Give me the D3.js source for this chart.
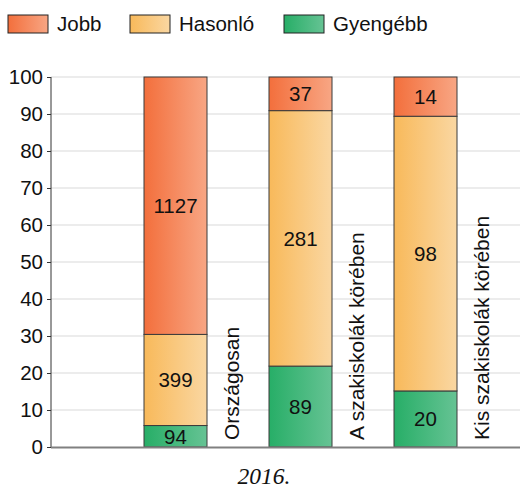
<!DOCTYPE html>
<html>
<head>
<meta charset="utf-8">
<script src="https://cdn.jsdelivr.net/npm/d3@7"></script>
<style>
  body { margin: 0; background: #fff; }
  svg { display: block; font-family: "Liberation Sans", Arial, sans-serif; }
</style>
</head>
<body>
<div id="chart"></div>
<script>
// counts per category, bars are drawn as share of the category total
var categories = ["Országosan", "A szakiskolák körében", "Kis szakiskolák körében"];
var series     = ["Gyengébb", "Hasonló", "Jobb"];
var gyengebb   = [94, 89, 20];
var hasonlo    = [399, 281, 98];
var jobb       = [1127, 37, 14];
var yTicks     = [0, 10, 20, 30, 40, 50, 60, 70, 80, 90, 100];
var legendOrder = ["Jobb", "Hasonló", "Gyengébb"];
var footnote   = "2016.";

var w = 521, h = 489;
var fs = "20.5px";
var svg = d3.select("#chart").append("svg").attr("width", w).attr("height", h);

// gradients left (saturated) -> right (lighter)
var grad = {
  "Jobb":     ["#f36f3c", "#f8a684"],
  "Hasonló":  ["#f8b95a", "#fad7a2"],
  "Gyengébb": ["#27ae67", "#66c394"]
};
var defs = svg.append("defs");
Object.keys(grad).forEach(function(k, i) {
  var g = defs.append("linearGradient").attr("id", "g" + i)
    .attr("x1", 0).attr("x2", 1).attr("y1", 0).attr("y2", 0);
  g.append("stop").attr("offset", "0%").attr("stop-color", grad[k][0]);
  g.append("stop").attr("offset", "100%").attr("stop-color", grad[k][1]);
  grad[k].id = "url(#g" + i + ")";
});

var y = d3.scaleLinear().domain([0, 100]).range([447, 77]);
var x = d3.scaleBand().domain(categories).range([113, 488]);
var barW = 63;

// grid
svg.append("g").selectAll("line").data(yTicks.slice(1)).join("line")
  .attr("x1", 51).attr("x2", 520)
  .attr("y1", function(d) { return y(d); }).attr("y2", function(d) { return y(d); })
  .attr("stroke", "#d9d9d9").attr("stroke-width", 1);

// y axis
var yAxis = svg.append("g").attr("transform", "translate(51,0)")
  .call(d3.axisLeft(y).tickValues(yTicks).tickSize(4).tickPadding(4));
yAxis.select(".domain").attr("stroke", "#333").attr("d", "M0,77V447");
yAxis.selectAll(".tick line").attr("stroke", "#333");
yAxis.selectAll(".tick text").attr("font-size", fs).attr("fill", "#111")
  .attr("font-family", "Liberation Sans, Arial, sans-serif");

// stacked data in percent
var rows = categories.map(function(c, i) {
  var t = gyengebb[i] + hasonlo[i] + jobb[i];
  return { cat: c, "Gyengébb": gyengebb[i], "Hasonló": hasonlo[i], "Jobb": jobb[i], total: t };
});
var stack = d3.stack().keys(series)
  .value(function(d, k) { return d[k] / d.total * 100; });
var layers = stack(rows);

var cx = function(d) { return x(d.data.cat) + x.bandwidth() / 2; };

var lg = svg.append("g").selectAll("g").data(layers).join("g");
lg.selectAll("rect").data(function(L) { return L.map(function(p) { p.key = L.key; return p; }); })
  .join("rect")
  .attr("x", function(d) { return cx(d) - barW / 2; })
  .attr("width", barW)
  .attr("y", function(d) { return y(d[1]); })
  .attr("height", function(d) { return y(d[0]) - y(d[1]); })
  .attr("fill", function(d) { return grad[d.key].id; })
  .attr("stroke", "#3a3a3a").attr("stroke-width", 1);

lg.selectAll("text").data(function(L) { return L; }).join("text")
  .attr("x", function(d) { return cx(d); })
  .attr("y", function(d) { return (y(d[0]) + y(d[1])) / 2; })
  .attr("dy", "0.36em")
  .attr("text-anchor", "middle")
  .attr("font-size", fs).attr("fill", "#111")
  .text(function(d) { return d.data[d.key]; });

// x axis
svg.append("line").attr("x1", 51).attr("x2", 520).attr("y1", 447.5).attr("y2", 447.5)
  .attr("stroke", "#808080").attr("stroke-width", 2);

// rotated category labels right of each bar
svg.append("g").selectAll("text").data(categories).join("text")
  .attr("transform", function(d) {
    return "translate(" + (x(d) + x.bandwidth() / 2 + barW / 2 + 32) + ",440) rotate(-90)";
  })
  .attr("font-size", "21px").attr("fill", "#111")
  .text(function(d) { return d; });

// legend
var lx = [8, 130, 284];
var leg = svg.append("g").selectAll("g").data(legendOrder).join("g")
  .attr("transform", function(d, i) { return "translate(" + lx[i] + ",15)"; });
leg.append("rect").attr("width", 40).attr("height", 18)
  .attr("fill", function(d) { return grad[d].id; })
  .attr("stroke", "#222").attr("stroke-width", 1);
leg.append("text").attr("x", 49).attr("y", 9).attr("dy", "0.36em")
  .attr("font-size", fs).attr("fill", "#111")
  .text(function(d) { return d; });

svg.append("text").attr("x", 264).attr("y", 484).attr("text-anchor", "middle")
  .attr("font-family", "Liberation Serif, Times New Roman, serif")
  .attr("font-style", "italic").attr("font-size", "23.5px").attr("fill", "#111")
  .text(footnote);
</script>
</body>
</html>
